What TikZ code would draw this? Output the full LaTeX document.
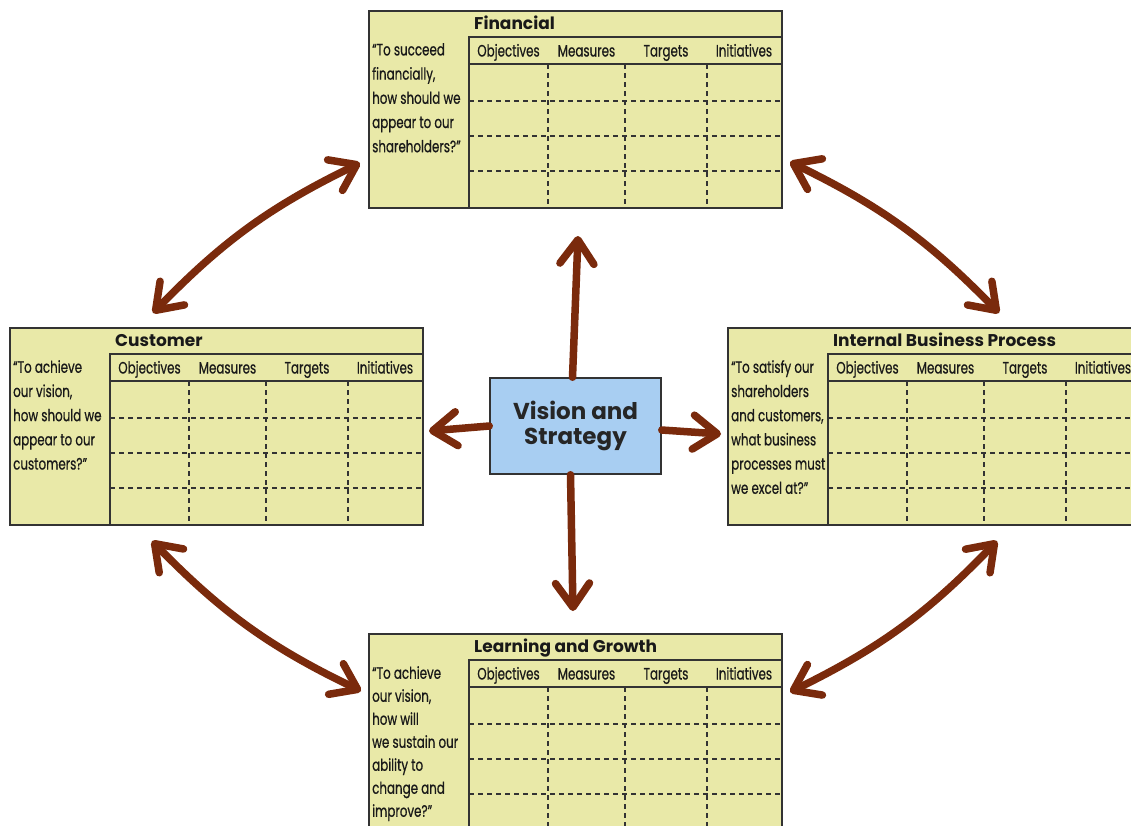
\documentclass[tikz,border=0pt]{standalone}
\usepackage{fontspec}
\setmainfont{Poppins}
\newfontfamily\condfont[FakeStretch=0.72,FakeBold=0.6]{Poppins}
\newfontfamily\condbold{Poppins Bold}
\usetikzlibrary{arrows.meta,calc}
\definecolor{boxfill}{HTML}{E9E9A8}
\definecolor{boxline}{HTML}{333333}
\definecolor{arrowbrown}{HTML}{7A2A0C}
\definecolor{visfill}{HTML}{A8CEF2}
\tikzset{
  scbox/.style={draw=boxline, line width=2.2pt, fill=boxfill, anchor=north west,
    minimum width=413pt, minimum height=197pt, inner sep=0pt},
  tabline/.style={draw=boxline, line width=2.2pt},
  dashline/.style={draw=boxline, line width=2pt, dash pattern=on 5pt off 4pt},
  collab/.style={font=\condfont\fontsize{16.5}{18}\selectfont, inner sep=0pt, anchor=base, text=black!90},
  titlelab/.style={font=\condbold\fontsize{17}{18}\selectfont, inner sep=0pt, anchor=base west, text=black!90},
  qtext/.style={inner sep=0pt, anchor=north west, align=left, text=black!90},
  visbox/.style={draw=boxline, line width=1.5pt, fill=visfill, minimum width=171pt,
    minimum height=96pt, align=center, inner sep=0pt,
    font=\bfseries\fontsize{23}{25}\selectfont, text=black!85},
  arr/.style={draw=arrowbrown, line width=7.5pt, line cap=round,
    -{Straight Barb[length=24pt,width=34pt,round]}},
  darr/.style={draw=arrowbrown, line width=7.5pt, line cap=round,
    {Straight Barb[length=24pt,width=34pt,round]}-{Straight Barb[length=24pt,width=34pt,round]}}
}
\newcommand\scorecard[6][24.2]{%
  \begin{scope}[shift={(#3,#4)}]
    \node[scbox] (#2) at (0,0) {};
    \draw[tabline] (101,197) -- (101,27) -- (413,27);
    \draw[tabline] (101,54) -- (413,54);
    \foreach \yy in {91,126,161} {\draw[dashline] (101,\yy) -- (413,\yy);}
    \foreach \xx in {180,257,339} {\draw[dashline] (\xx,54) -- (\xx,197);}
    \node[titlelab] (#2-t) at (106,19.5) {#5};
    \node[collab] (#2-c1) at (140.5,46.5) {Objectives};
    \node[collab] (#2-c2) at (218.5,46.5) {Measures};
    \node[collab] (#2-c3) at (298,46.5) {Targets};
    \node[collab] (#2-c4) at (376,46.5) {Initiatives};
    \node[qtext, font=\condfont\fontsize{16.5}{#1}\selectfont] (#2-q) at (4,33) {#6};
  \end{scope}}
\begin{document}
\begin{tikzpicture}[x=1pt,y=-1pt]
\useasboundingbox[fill=white] (0,0) rectangle (1131,825);
\clip (0,0) rectangle (1131,825);
\scorecard{fin}{368}{10}{Financial}{“To succeed\\financially,\\how should we\\appear to our\\shareholders?”}
\scorecard{cus}{9}{327}{Customer}{“To achieve\\our vision,\\how should we\\appear to our\\customers?”}
\scorecard{ibp}{727}{327}{Internal Business Process}{“To satisfy our\\shareholders\\and customers,\\what business\\processes must\\we excel at?”}
\scorecard[23]{lrn}{368}{633}{Learning and Growth}{“To achieve\\our vision,\\how will\\we sustain our\\ability to\\change and\\improve?”}
\node[visbox] (vis) at (575.5,426) {Vision and\\Strategy};
% free ends of connectors
\coordinate (upTip) at (578,236);
\coordinate (downTip) at (573,611);
\coordinate (leftTip) at (429,431);
\coordinate (rightTip) at (721,434);
\coordinate (fc) at (360,163);
\coordinate (cf) at (153,313);
\coordinate (fi) at (790,162);
\coordinate (if) at (999,313);
\coordinate (cl) at (152,541);
\coordinate (lc) at (361,691);
\coordinate (il) at (997,541);
\coordinate (li) at (790,692);
\draw[arr] ([xshift=-3pt]vis.north) -- (upTip);
\draw[arr] ([xshift=-5pt]vis.south) -- (downTip);
\draw[arr] (vis.west) -- (leftTip);
\draw[arr] ([yshift=-4pt]vis.east) -- (rightTip);
\draw[darr] (cf) to[bend left=10] (fc);
\draw[darr] (fi) to[bend left=10] (if);
\draw[darr] (cl) to[bend right=10] (lc);
\draw[darr] (il) to[bend left=10] (li);
\end{tikzpicture}
\end{document}
